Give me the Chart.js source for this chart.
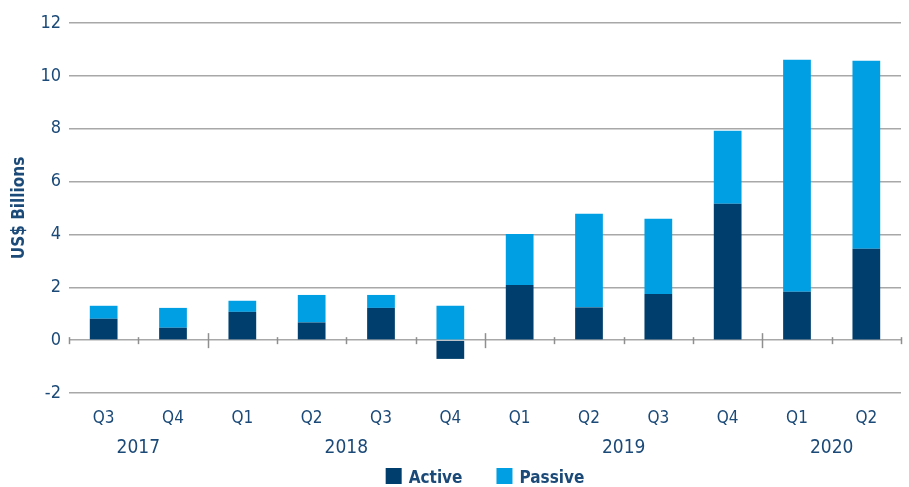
<!DOCTYPE html>
<html>
<head>
<meta charset="utf-8">
<script src="https://cdn.jsdelivr.net/npm/chart.js@4.4.1/dist/chart.umd.min.js"></script>
<style>
  html, body { margin: 0; padding: 0; background: #fff; }
  #wrap { width: 909px; height: 487px; position: relative; }
</style>
</head>
<body>
<div id="wrap"><canvas id="flowChart"></canvas></div>
<script>
// quarterly flows, US$ billions
const quarters = ['Q3', 'Q4', 'Q1', 'Q2', 'Q3', 'Q4', 'Q1', 'Q2', 'Q3', 'Q4', 'Q1', 'Q2'];
const years = ['2017', '2018', '2019', '2020'];
const yearStart = [0, 2, 6, 10]; // first quarter index of each year
const yearEnd = [1, 5, 9, 11];
const active = [0.81, 0.47, 1.07, 0.67, 1.22, -0.71, 2.09, 1.24, 1.75, 5.16, 1.83, 3.46];
const passive = [0.49, 0.75, 0.42, 1.04, 0.49, 1.30, 1.93, 3.54, 2.84, 2.76, 8.78, 7.11];
const yTicks = [-2, 0, 2, 4, 6, 8, 10, 12];

const textColor = '#1b4a78';
const fontFamily = '"Liberation Sans Narrow", "DejaVu Sans Condensed", "Liberation Sans", sans-serif';

// year labels, tick marks on the zero line, legend
const extras = {
    id: 'extras',
    afterDraw(chart) {
        const ctx = chart.ctx;
        const x = chart.scales.x;
        const y = chart.scales.y;
        const area = chart.chartArea;
        const zeroY = y.getPixelForValue(0);

        ctx.save();
        // tick marks between quarters
        ctx.strokeStyle = '#8f8f8f';
        ctx.lineWidth = 1.5;
        for (let i = 0; i <= quarters.length; i++) {
            const px = Math.round(x.getPixelForValue(i - 0.5)) + 0.5;
            const big = yearStart.includes(i) && i > 0;
            ctx.beginPath();
            ctx.moveTo(px, zeroY - (big ? 7 : 3));
            ctx.lineTo(px, zeroY + (big ? 8 : 4));
            ctx.stroke();
        }

        // year labels
        ctx.fillStyle = textColor;
        ctx.font = '19px ' + fontFamily;
        ctx.textAlign = 'center';
        ctx.textBaseline = 'alphabetic';
        years.forEach((yr, k) => {
            const cx = (x.getPixelForValue(yearStart[k]) + x.getPixelForValue(yearEnd[k])) / 2;
            ctx.fillText(yr, cx, area.bottom + 60);
        });

        // legend
        ctx.font = 'bold 17px ' + fontFamily;
        ctx.textAlign = 'left';
        const items = chart.data.datasets.map(ds => ({ text: ds.label, color: ds.backgroundColor }));
        const box = 16, gapText = 7, gapItem = 34;
        const widths = items.map(it => box + gapText + ctx.measureText(it.text).width);
        const total = widths.reduce((a, b) => a + b, 0) + gapItem * (items.length - 1);
        let lx = (area.left + area.right) / 2 - total / 2;
        const base = area.bottom + 90;
        items.forEach((it, k) => {
            ctx.fillStyle = it.color;
            ctx.fillRect(lx, base - 15, box, box);
            ctx.fillStyle = textColor;
            ctx.fillText(it.text, lx + box + gapText, base);
            lx += widths[k] + gapItem;
        });
        ctx.restore();
    }
};

const ctx = document.getElementById('flowChart').getContext('2d');
const chart = new Chart(ctx, {
    type: 'bar',
    data: {
        labels: quarters,
        datasets: [
            {
                label: 'Active',
                data: active,
                backgroundColor: '#003f6d',
                barPercentage: 0.4,
                categoryPercentage: 1
            },
            {
                label: 'Passive',
                data: passive,
                backgroundColor: '#009fe3',
                barPercentage: 0.4,
                categoryPercentage: 1
            }
        ]
    },
    options: {
        responsive: true,
        maintainAspectRatio: false,
        animation: false,
        layout: {
            padding: { top: 23, right: 8, bottom: 0, left: 0 }
        },
        plugins: {
            legend: { display: false },
            tooltip: { enabled: false }
        },
        scales: {
            x: {
                stacked: true,
                offset: true,
                grid: { display: false },
                border: { display: false },
                ticks: {
                    color: textColor,
                    padding: 7,
                    maxRotation: 0,
                    font: { family: fontFamily, size: 17 }
                },
                afterFit: (scale) => { scale.height = 94; }
            },
            y: {
                stacked: true,
                min: -2,
                max: 12,
                afterBuildTicks: (scale) => {
                    scale.ticks = yTicks.map(v => ({ value: v }));
                },
                grid: {
                    color: '#a8a8a8',
                    lineWidth: 1.5,
                    drawTicks: false
                },
                border: { display: false },
                ticks: {
                    color: textColor,
                    padding: 8,
                    font: { family: fontFamily, size: 18 }
                },
                title: {
                    display: true,
                    text: 'US$ Billions',
                    color: textColor,
                    padding: { top: 9, bottom: 0 },
                    font: { family: fontFamily, size: 17, weight: 'bold' }
                },
                afterFit: (scale) => { scale.width = 69; }
            }
        }
    },
    plugins: [extras]
});
</script>
</body>
</html>
